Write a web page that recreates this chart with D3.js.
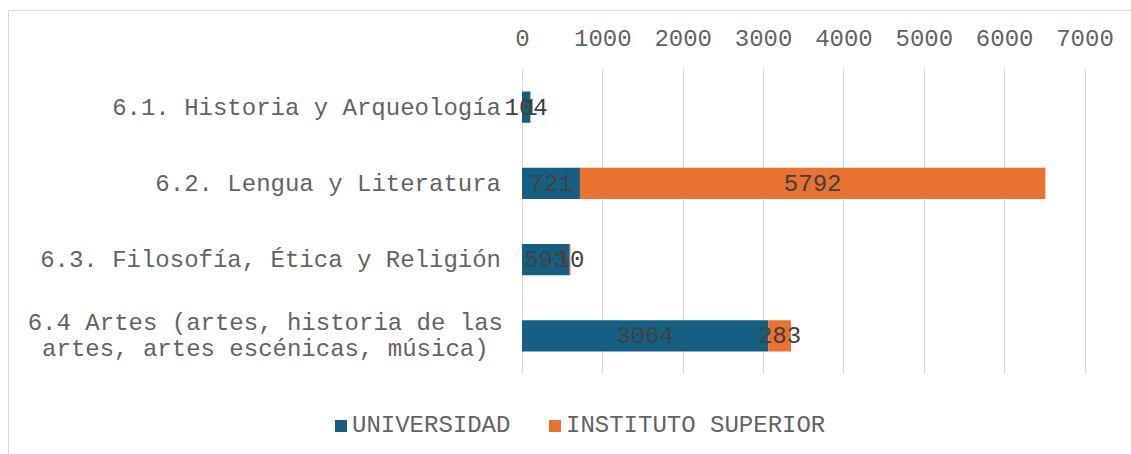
<!DOCTYPE html>
<html><head><meta charset="utf-8">
<script src="https://cdn.jsdelivr.net/npm/d3@7"></script>
<style>body{margin:0;background:#fff} svg{display:block}</style>
</head><body><svg id="c" width="1131" height="454"></svg>
<script>
const categories = ["6.1. Historia y Arqueología", "6.2. Lengua y Literatura", "6.3. Filosofía, Ética y Religión", "6.4 Artes (artes, historia de las\nartes, artes escénicas, música)"];
const universidad = [104, 721, 593, 3064];
const instituto = [1, 5792, 10, 283];
const seriesNames = ["UNIVERSIDAD", "INSTITUTO SUPERIOR"];
const seriesColors = ["#156082", "#E97132"];
const tickValues = [0, 1000, 2000, 3000, 4000, 5000, 6000, 7000];

const FONT = "'Courier New', 'Liberation Mono', monospace";
const FS = 24;
const TXT = "#636363";
const svg = d3.select("#c");

// chart border
svg.append("path").attr("d", "M8.5,454 L8.5,10.5 L1131,10.5").attr("fill","none").attr("stroke","#D9D9D9").attr("stroke-width",1);

const x = d3.scaleLinear().domain([0, 7000]).range([522, 1084.5]);
const y = d3.scaleBand().domain(categories).range([69, 374]).paddingInner(0.59).paddingOuter(0.295);

// gridlines
svg.append("g").selectAll("line").data(tickValues).join("line")
  .attr("x1", d => Math.round(x(d)) + 0.5).attr("x2", d => Math.round(x(d)) + 0.5)
  .attr("y1", 69).attr("y2", 374).attr("stroke", "#D9D9D9").attr("stroke-width", 1);

// top axis labels
const axis = d3.axisTop(x).tickValues(tickValues).tickSize(0).tickPadding(0).tickFormat(d3.format("d"));
const ag = svg.append("g").attr("transform", "translate(0,46)").call(axis);
ag.select(".domain").remove();
ag.selectAll("text").attr("font-family", FONT).attr("font-size", FS).attr("fill", TXT).attr("dy", 0);

// stacked data
const rows = categories.map((c, i) => ({cat: c, u: universidad[i], s: instituto[i]}));
const stack = d3.stack().keys(["u", "s"])(rows);

const gBars = svg.append("g");
stack.forEach((layer, li) => {
  gBars.selectAll(null).data(layer).join("rect")
    .attr("x", d => x(d[0])).attr("width", d => x(d[1]) - x(d[0]))
    .attr("y", d => y(d.data.cat)).attr("height", y.bandwidth())
    .attr("fill", seriesColors[li]);
});
// value labels
stack.forEach((layer, li) => {
  svg.append("g").selectAll("text").data(layer).join("text")
    .attr("x", d => (x(d[0]) + x(d[1])) / 2)
    .attr("y", d => y(d.data.cat) + y.bandwidth() / 2 + 7.5)
    .attr("text-anchor", "middle").attr("font-family", FONT).attr("font-size", FS)
    .attr("fill", "#404040")
    .text(d => d[1] - d[0]);
});

// category labels
const gc = svg.append("g");
categories.forEach(c => {
  const lines = c.split("\n");
  const cy = y(c) + y.bandwidth() / 2;
  const t = gc.append("text").attr("font-family", FONT).attr("font-size", FS).attr("fill", TXT);
  if (lines.length === 1) {
    t.attr("x", 501).attr("y", cy + 7.5).attr("text-anchor", "end").text(c);
  } else {
    const lh = 26;
    lines.forEach((l, k) => {
      t.append("tspan").attr("y", cy + 7.5 + (k - (lines.length - 1) / 2) * lh).text(l);
    });
    const widths = [];
    t.selectAll("tspan").each(function(){ widths.push(this.getComputedTextLength()); });
    const maxW = d3.max(widths);
    t.attr("text-anchor", "middle");
    t.selectAll("tspan").attr("x", 503 - maxW / 2);
  }
});

// legend
const legX = [335, 549];
const lg = svg.append("g");
seriesNames.forEach((n, i) => {
  lg.append("rect").attr("x", legX[i]).attr("y", 420).attr("width", 12).attr("height", 12).attr("fill", seriesColors[i]);
  lg.append("text").attr("x", legX[i] + 17).attr("y", 432).attr("font-family", FONT).attr("font-size", FS)
    .attr("fill", TXT).text(n);
});
</script></body></html>
